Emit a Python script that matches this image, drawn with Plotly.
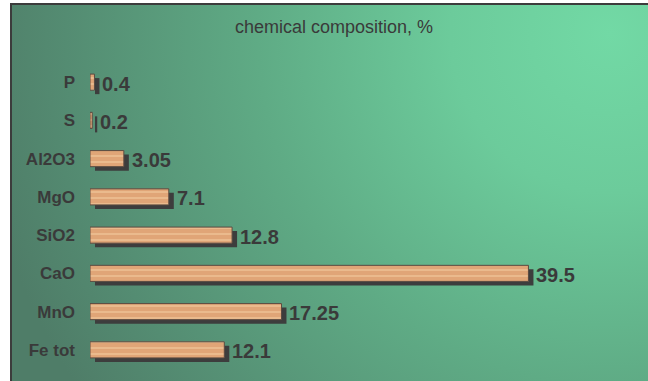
import base64
import plotly.graph_objects as go

# Chemical composition data (bottom row first)
categories = ["Fe tot", "MnO", "CaO", "SiO2", "MgO", "Al2O3", "S", "P"]
values = [12.1, 17.25, 39.5, 12.8, 7.1, 3.05, 0.2, 0.4]
value_labels = ["12.1", "17.25", "39.5", "12.8", "7.1", "3.05", "0.2", "0.4"]

W, H = 648, 381
ML, MR, MT, MB = 90, 3, 63, 11.5
X_MAX = 50
plot_w = W - ML - MR
plot_h = H - MT - MB
px_per_unit = plot_w / X_MAX
px_per_row = plot_h / len(categories)

BAR_W = 0.42
SHADOW_DX_PX, SHADOW_DY_PX = 5, 4
shadow_dx = SHADOW_DX_PX / px_per_unit
shadow_dy = SHADOW_DY_PX / px_per_row

TEXT_COLOR = "#3a3a3a"
FONT = "Liberation Sans, Arial, sans-serif"

# Background panel: radial green gradient with light centre towards the top-right
svg = """<svg xmlns='http://www.w3.org/2000/svg' width='640' height='380' viewBox='0 0 640 380' preserveAspectRatio='none'>
<defs>
<radialGradient id='g' cx='600' cy='30' r='640' gradientUnits='userSpaceOnUse'>
<stop offset='0' stop-color='#72d9a5'/>
<stop offset='0.25' stop-color='#6ccb9b'/>
<stop offset='0.55' stop-color='#5fab85'/>
<stop offset='0.85' stop-color='#548c72'/>
<stop offset='1' stop-color='#4f7d68'/>
</radialGradient>
</defs>
<rect width='640' height='380' fill='url(#g)'/>
</svg>"""
bg_src = "data:image/svg+xml;base64," + base64.b64encode(svg.encode()).decode()


def paper_x(px):
    return (px - ML) / plot_w


def paper_y(py):
    return (H - MB - py) / plot_h


FRAME_L, FRAME_T = 10, 3

fig = go.Figure()

# Drop shadows behind the bars
fig.add_trace(go.Bar(
    y=categories,
    x=values,
    base=shadow_dx,
    orientation="h",
    width=BAR_W,
    offset=-BAR_W / 2 - shadow_dy,
    marker=dict(color="#3d3d3d", line=dict(width=0)),
    hoverinfo="skip",
    showlegend=False,
))

# Main bars with a grainy tan fill
fig.add_trace(go.Bar(
    y=categories,
    x=values,
    orientation="h",
    width=BAR_W,
    offset=-BAR_W / 2,
    marker=dict(
        color="#e2aa7c",
        line=dict(color="#5a4a40", width=1),
        pattern=dict(shape="-", fgcolor="#ecbd90", bgcolor="#e0a577",
                     size=6, solidity=0.3, fillmode="replace"),
    ),
    showlegend=False,
))

# Value labels just past each bar's shadow
annotations = [
    dict(
        x=v + shadow_dx, y=cat, xref="x", yref="y",
        text=lbl, showarrow=False,
        xanchor="left", yanchor="middle",
        xshift=1, yshift=-1.5,
        font=dict(family=FONT, size=20, color=TEXT_COLOR, weight="bold"),
    )
    for cat, v, lbl in zip(categories, values, value_labels)
]

fig.update_layout(
    width=W,
    height=H,
    margin=dict(l=ML, r=MR, t=MT, b=MB, pad=0),
    paper_bgcolor="white",
    plot_bgcolor="rgba(0,0,0,0)",
    barmode="overlay",
    title=dict(
        text="chemical composition, %",
        x=334 / W, xanchor="center", xref="container",
        y=1 - 27 / H, yanchor="middle", yref="container",
        font=dict(family=FONT, size=18, color=TEXT_COLOR),
    ),
    xaxis=dict(range=[0, X_MAX], visible=False, fixedrange=True),
    yaxis=dict(
        type="category",
        categoryorder="array",
        categoryarray=categories,
        range=[-0.5, len(categories) - 0.5],
        showgrid=False,
        zeroline=False,
        showline=False,
        ticks="",
        ticklabelstandoff=14,
        tickfont=dict(family=FONT, size=17, color=TEXT_COLOR, weight="bold"),
        fixedrange=True,
    ),
    annotations=annotations,
    images=[dict(
        source=bg_src,
        xref="paper", yref="paper",
        x=paper_x(FRAME_L), y=paper_y(FRAME_T),
        sizex=paper_x(W + 2) - paper_x(FRAME_L),
        sizey=paper_y(FRAME_T) - paper_y(H + 2),
        xanchor="left", yanchor="top",
        sizing="stretch", layer="below",
    )],
    shapes=[
        dict(type="line", xref="paper", yref="paper",
             x0=paper_x(FRAME_L + 1), x1=paper_x(FRAME_L + 1),
             y0=paper_y(FRAME_T), y1=paper_y(H + 2),
             line=dict(color="#3c3c3c", width=2), layer="above"),
        dict(type="line", xref="paper", yref="paper",
             x0=paper_x(FRAME_L), x1=paper_x(W + 2),
             y0=paper_y(FRAME_T + 1), y1=paper_y(FRAME_T + 1),
             line=dict(color="#3c3c3c", width=2), layer="above"),
    ],
)

fig.write_html("out.html", config={"displayModeBar": False})
